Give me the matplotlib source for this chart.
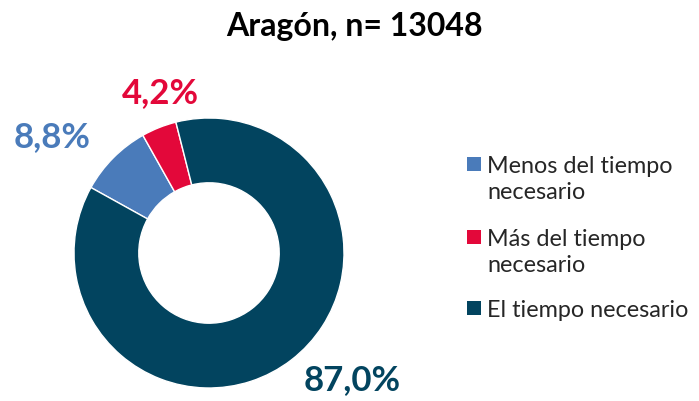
import matplotlib
matplotlib.use("Agg")
import matplotlib.pyplot as plt
from matplotlib.patches import Rectangle

plt.rcParams['font.family'] = ['Lato', 'DejaVu Sans']

# datos
title = "Aragón, n= 13048"
labels = ["Menos del tiempo\nnecesario", "Más del tiempo\nnecesario", "El tiempo necesario"]
values = [8.8, 4.2, 87.0]
colors = ["#4A7BBA", "#E3083A", "#02445F"]

W, H = 699, 402
fig = plt.figure(figsize=(W / 100, H / 100), dpi=100)

# donut, centro ~ (209, 254) px, radio 135 px
ax = fig.add_axes([74 / W, 13 / H, 270 / W, 270 / H])
ax.pie(values, colors=colors, startangle=151, counterclock=False, radius=1,
       wedgeprops=dict(width=0.48, edgecolor="white", linewidth=1))
ax.set_xlim(-1, 1)
ax.set_ylim(-1, 1)
ax.set_aspect("equal")
ax.axis("off")

fig.text(354 / W, 1 - 36 / H, title, ha="center", va="baseline",
         fontsize=23, fontweight="bold", color="black")

# etiquetas de porcentaje (posicion en px: x centro, linea base)
label_pos = [(52, 147), (160, 103), (352, 390)]
for v, c, (px, py) in zip(values, colors, label_pos):
    txt = f"{v:.1f}%".replace(".", ",")
    fig.text(px / W, 1 - py / H, txt, ha="center", va="baseline",
             fontsize=25, fontweight="bold", color=c)

# leyenda
baselines = [173, 246, 317]
for lab, c, b in zip(labels, colors, baselines):
    fig.add_artist(Rectangle((467 / W, 1 - (b - 1) / H), 14 / W, 14 / H,
                             transform=fig.transFigure, facecolor=c, edgecolor="none"))
    for j, line in enumerate(lab.split("\n")):
        fig.text(487 / W, 1 - (b + j * 26) / H, line, ha="left", va="baseline",
                 fontsize=16.8, color="#262626")

plt.savefig("out.png", dpi=100)
